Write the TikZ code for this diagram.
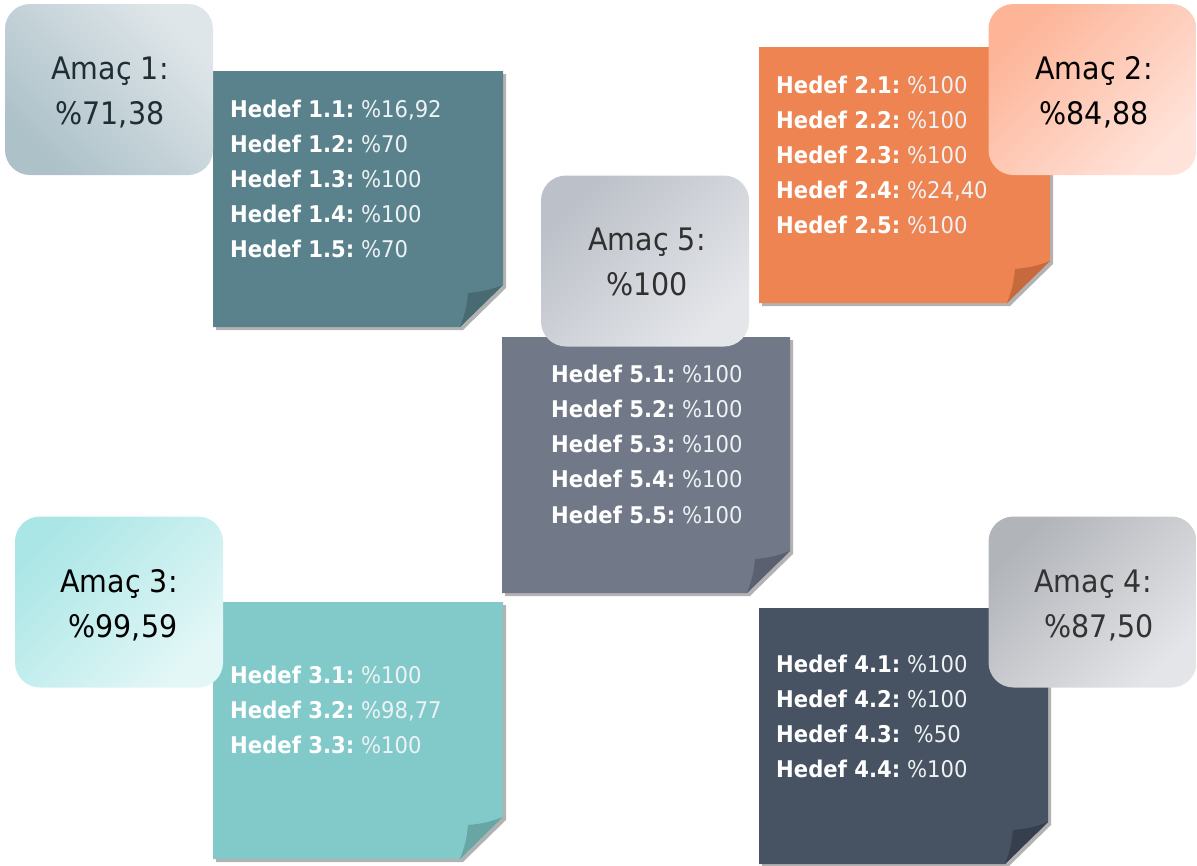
\documentclass[tikz,border=0pt]{standalone}
\usepackage{fontspec}
\setmainfont{DejaVu Sans}[FakeStretch=0.92]
\usetikzlibrary{shadows}
\definecolor{n1c}{HTML}{5A828C}\definecolor{n1f}{HTML}{486A73}
\definecolor{n2c}{HTML}{EE8452}\definecolor{n2f}{HTML}{C66A3E}
\definecolor{n5c}{HTML}{717887}\definecolor{n5f}{HTML}{5A6070}
\definecolor{n3c}{HTML}{82CACA}\definecolor{n3f}{HTML}{68A6A6}
\definecolor{n4c}{HTML}{475262}\definecolor{n4f}{HTML}{363F4D}
\definecolor{a1d}{HTML}{ADC1C9}\definecolor{a1l}{HTML}{DFE6E9}
\definecolor{a2d}{HTML}{FDB497}\definecolor{a2l}{HTML}{FFE3DA}
\definecolor{a5d}{HTML}{BCC0C8}\definecolor{a5l}{HTML}{E4E6EA}
\definecolor{a3d}{HTML}{ABE6E6}\definecolor{a3l}{HTML}{E4F7F7}
\definecolor{a4d}{HTML}{B1B4B9}\definecolor{a4l}{HTML}{E4E5E8}
\definecolor{valc}{HTML}{EEF2F4}
\tikzset{
  notesh/.style={drop shadow={shadow xshift=3pt, shadow yshift=-3pt, opacity=0.3, fill=black}},
  amacbox/.style={rounded corners=25pt, minimum width=208pt, minimum height=171pt, inner sep=0pt},
  amactext/.style={font=\fontsize{31}{38}\selectfont, anchor=base},
  hline/.style={font=\fontsize{23}{30}\selectfont, anchor=base west, text=white, inner sep=0pt}
}
\newcommand\notepaper[6]{%
  \fill[#5, notesh] (#1,#2) -- (#3,#2) -- (#3,#4-42) -- (#3-43,#4) -- (#1,#4) -- cycle;
  \fill[#6] (#3,#4-42) to[bend left=8] (#3-35,#4-34) to[bend left=8] (#3-43,#4) -- cycle;}
\newcommand\hd[2]{\textbf{Hedef #1:}\ {\color{valc}#2}}
\begin{document}
\begin{tikzpicture}[x=1pt,y=-1pt]
\useasboundingbox (0,0) rectangle (1197,865);
% notes
\notepaper{213}{71}{503}{327}{n1c}{n1f}
\notepaper{759}{47}{1050}{303}{n2c}{n2f}
\notepaper{502}{337}{790}{593}{n5c}{n5f}
\notepaper{213}{602}{503}{859}{n3c}{n3f}
\notepaper{759}{608}{1048}{864}{n4c}{n4f}
% note texts
\node[hline] (h11) at (230,117) {\hd{1.1}{\%16,92}};
\node[hline] (h12) at (230,152) {\hd{1.2}{\%70}};
\node[hline] (h13) at (230,187) {\hd{1.3}{\%100}};
\node[hline] (h14) at (230,222) {\hd{1.4}{\%100}};
\node[hline] (h15) at (230,257) {\hd{1.5}{\%70}};
\node[hline] (h21) at (776,93) {\hd{2.1}{\%100}};
\node[hline] (h22) at (776,128) {\hd{2.2}{\%100}};
\node[hline] (h23) at (776,163) {\hd{2.3}{\%100}};
\node[hline] (h24) at (776,198) {\hd{2.4}{\%24,40}};
\node[hline] (h25) at (776,233) {\hd{2.5}{\%100}};
\node[hline] (h51) at (551,382) {\hd{5.1}{\%100}};
\node[hline] (h52) at (551,417) {\hd{5.2}{\%100}};
\node[hline] (h53) at (551,452) {\hd{5.3}{\%100}};
\node[hline] (h54) at (551,487) {\hd{5.4}{\%100}};
\node[hline] (h55) at (551,523) {\hd{5.5}{\%100}};
\node[hline] (h31) at (230,683) {\hd{3.1}{\%100}};
\node[hline] (h32) at (230,718) {\hd{3.2}{\%98,77}};
\node[hline] (h33) at (230,753) {\hd{3.3}{\%100}};
\node[hline] (h41) at (776,672) {\hd{4.1}{\%100}};
\node[hline] (h42) at (776,707) {\hd{4.2}{\%100}};
\node[hline] (h43) at (776,742) {\textbf{Hedef 4.3:}\ \ {\color{valc}\%50}};
\node[hline] (h44) at (776,777) {\hd{4.4}{\%100}};
% goal boxes
\node[amacbox, top color=a1l, bottom color=a1d, shading angle=-45] (a1) at (109,89.5) {};
\node[amacbox, top color=a2d, bottom color=a2l, shading angle=45] (a2) at (1092.5,89.5) {};
\node[amacbox, top color=a5d, bottom color=a5l, shading angle=45] (a5) at (645,261) {};
\node[amacbox, top color=a3d, bottom color=a3l, shading angle=45] (a3) at (119,602) {};
\node[amacbox, top color=a4d, bottom color=a4l, shading angle=45] (a4) at (1092.5,602) {};
\node[amactext, text={rgb,255:red,30;green,46;blue,50}] (t1a) at (110,79) {Amaç 1:};
\node[amactext, text={rgb,255:red,30;green,46;blue,50}] (t1b) at (110,124) {\%71,38};
\node[amactext, text=black] (t2a) at (1094,79) {Amaç 2:};
\node[amactext, text=black] (t2b) at (1094,124) {\%84,88};
\node[amactext, text={rgb,255:red,48;green,48;blue,48}] (t5a) at (647,250) {Amaç 5:};
\node[amactext, text={rgb,255:red,48;green,48;blue,48}] (t5b) at (647,295) {\%100};
\node[amactext, text=black] (t3a) at (119,592) {Amaç 3:};
\node[amactext, text=black] (t3b) at (123,637) {\%99,59};
\node[amactext, text={rgb,255:red,51;green,51;blue,51}] (t4a) at (1093,592) {Amaç 4:};
\node[amactext, text={rgb,255:red,51;green,51;blue,51}] (t4b) at (1099,637) {\%87,50};
\end{tikzpicture}
\end{document}
